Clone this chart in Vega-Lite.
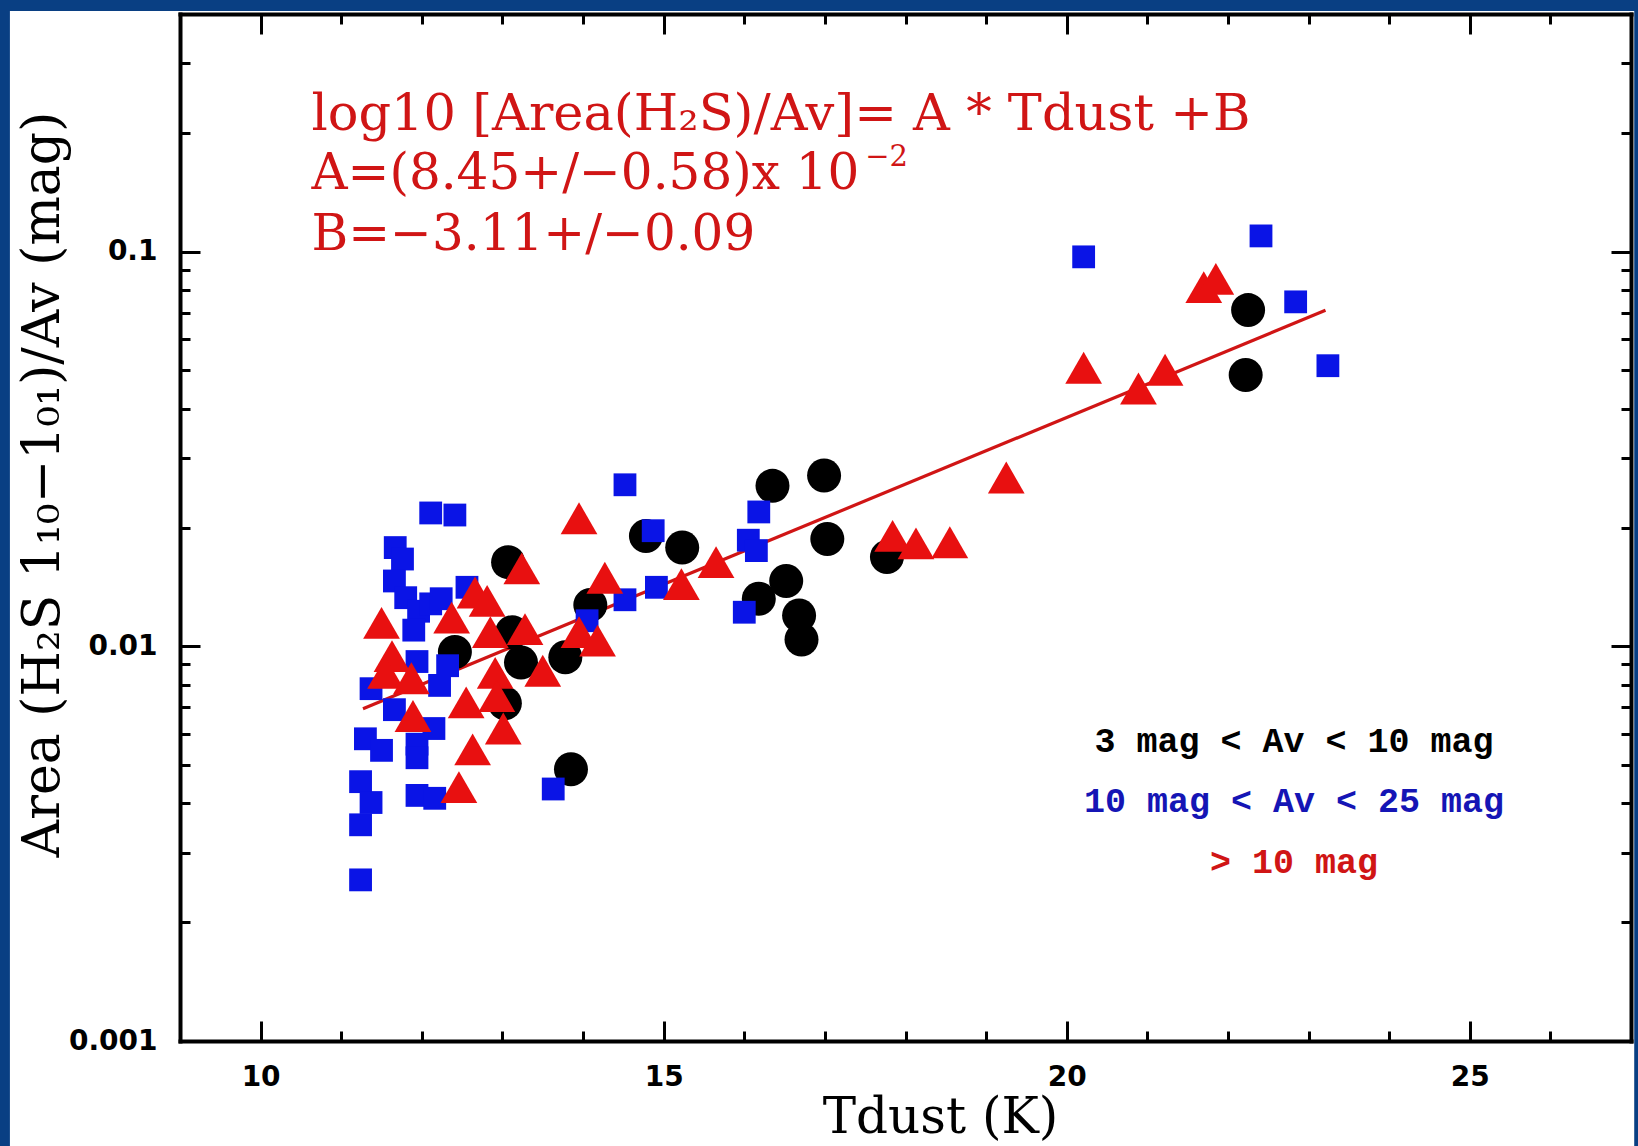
{
  "$schema": "https://vega.github.io/schema/vega-lite/v6.json",
  "width": 1451,
  "height": 1027,
  "autosize": {"type": "none"},
  "padding": {"left": 180, "top": 14, "right": 7, "bottom": 105},
  "background": "#093f83",
  "config": {
    "view": {"stroke": null},
    "axis": {
      "grid": false,
      "domainColor": "black",
      "domainWidth": 4,
      "domainCap": "square",
      "tickColor": "black",
      "tickWidth": 3,
      "labelColor": "black",
      "titleColor": "black",
      "labelFlush": false,
      "labelOverlap": false
    }
  },
  "datasets": {
    "points": [
      {"T": 22.25, "A": 0.0711, "group": "3 mag < Av < 10 mag"},
      {"T": 22.22, "A": 0.0487, "group": "3 mag < Av < 10 mag"},
      {"T": 16.99, "A": 0.0271, "group": "3 mag < Av < 10 mag"},
      {"T": 16.35, "A": 0.0255, "group": "3 mag < Av < 10 mag"},
      {"T": 17.03, "A": 0.0187, "group": "3 mag < Av < 10 mag"},
      {"T": 17.77, "A": 0.01684, "group": "3 mag < Av < 10 mag"},
      {"T": 14.78, "A": 0.01904, "group": "3 mag < Av < 10 mag"},
      {"T": 15.23, "A": 0.01779, "group": "3 mag < Av < 10 mag"},
      {"T": 16.52, "A": 0.01464, "group": "3 mag < Av < 10 mag"},
      {"T": 16.18, "A": 0.0132, "group": "3 mag < Av < 10 mag"},
      {"T": 16.68, "A": 0.01197, "group": "3 mag < Av < 10 mag"},
      {"T": 16.71, "A": 0.0104, "group": "3 mag < Av < 10 mag"},
      {"T": 13.07, "A": 0.01634, "group": "3 mag < Av < 10 mag"},
      {"T": 14.09, "A": 0.01273, "group": "3 mag < Av < 10 mag"},
      {"T": 13.23, "A": 0.0091, "group": "3 mag < Av < 10 mag"},
      {"T": 13.78, "A": 0.00938, "group": "3 mag < Av < 10 mag"},
      {"T": 13.12, "A": 0.01086, "group": "3 mag < Av < 10 mag"},
      {"T": 12.41, "A": 0.00967, "group": "3 mag < Av < 10 mag"},
      {"T": 13.03, "A": 0.00717, "group": "3 mag < Av < 10 mag"},
      {"T": 13.85, "A": 0.00488, "group": "3 mag < Av < 10 mag"},
      {"T": 20.21, "A": 0.097, "group": "10 mag < Av < 25 mag"},
      {"T": 22.41, "A": 0.1096, "group": "10 mag < Av < 25 mag"},
      {"T": 22.84, "A": 0.0746, "group": "10 mag < Av < 25 mag"},
      {"T": 23.24, "A": 0.0514, "group": "10 mag < Av < 25 mag"},
      {"T": 14.52, "A": 0.02566, "group": "10 mag < Av < 25 mag"},
      {"T": 14.87, "A": 0.01963, "group": "10 mag < Av < 25 mag"},
      {"T": 16.18, "A": 0.0219, "group": "10 mag < Av < 25 mag"},
      {"T": 16.05, "A": 0.01857, "group": "10 mag < Av < 25 mag"},
      {"T": 16.15, "A": 0.01748, "group": "10 mag < Av < 25 mag"},
      {"T": 14.91, "A": 0.01411, "group": "10 mag < Av < 25 mag"},
      {"T": 14.52, "A": 0.01312, "group": "10 mag < Av < 25 mag"},
      {"T": 16.0, "A": 0.0122, "group": "10 mag < Av < 25 mag"},
      {"T": 14.05, "A": 0.01161, "group": "10 mag < Av < 25 mag"},
      {"T": 13.63, "A": 0.00435, "group": "10 mag < Av < 25 mag"},
      {"T": 12.11, "A": 0.02177, "group": "10 mag < Av < 25 mag"},
      {"T": 12.41, "A": 0.02151, "group": "10 mag < Av < 25 mag"},
      {"T": 11.67, "A": 0.01779, "group": "10 mag < Av < 25 mag"},
      {"T": 11.76, "A": 0.01664, "group": "10 mag < Av < 25 mag"},
      {"T": 11.66, "A": 0.01464, "group": "10 mag < Av < 25 mag"},
      {"T": 11.8, "A": 0.01328, "group": "10 mag < Av < 25 mag"},
      {"T": 11.96, "A": 0.01227, "group": "10 mag < Av < 25 mag"},
      {"T": 12.11, "A": 0.01281, "group": "10 mag < Av < 25 mag"},
      {"T": 12.24, "A": 0.0132, "group": "10 mag < Av < 25 mag"},
      {"T": 12.56, "A": 0.01411, "group": "10 mag < Av < 25 mag"},
      {"T": 11.9, "A": 0.01099, "group": "10 mag < Av < 25 mag"},
      {"T": 11.94, "A": 0.00915, "group": "10 mag < Av < 25 mag"},
      {"T": 12.32, "A": 0.00893, "group": "10 mag < Av < 25 mag"},
      {"T": 11.37, "A": 0.00781, "group": "10 mag < Av < 25 mag"},
      {"T": 11.66, "A": 0.00691, "group": "10 mag < Av < 25 mag"},
      {"T": 12.22, "A": 0.00796, "group": "10 mag < Av < 25 mag"},
      {"T": 12.15, "A": 0.00619, "group": "10 mag < Av < 25 mag"},
      {"T": 11.94, "A": 0.00565, "group": "10 mag < Av < 25 mag"},
      {"T": 11.94, "A": 0.00522, "group": "10 mag < Av < 25 mag"},
      {"T": 11.3, "A": 0.00583, "group": "10 mag < Av < 25 mag"},
      {"T": 11.5, "A": 0.00545, "group": "10 mag < Av < 25 mag"},
      {"T": 11.24, "A": 0.00454, "group": "10 mag < Av < 25 mag"},
      {"T": 11.37, "A": 0.00402, "group": "10 mag < Av < 25 mag"},
      {"T": 11.24, "A": 0.00353, "group": "10 mag < Av < 25 mag"},
      {"T": 11.94, "A": 0.00419, "group": "10 mag < Av < 25 mag"},
      {"T": 12.16, "A": 0.00412, "group": "10 mag < Av < 25 mag"},
      {"T": 11.24, "A": 0.00256, "group": "10 mag < Av < 25 mag"},
      {"T": 11.5, "A": 0.01147, "group": "> 10 mag"},
      {"T": 11.63, "A": 0.00944, "group": "> 10 mag"},
      {"T": 11.55, "A": 0.00856, "group": "> 10 mag"},
      {"T": 11.87, "A": 0.0083, "group": "> 10 mag"},
      {"T": 11.89, "A": 0.00666, "group": "> 10 mag"},
      {"T": 12.37, "A": 0.01182, "group": "> 10 mag"},
      {"T": 12.66, "A": 0.01369, "group": "> 10 mag"},
      {"T": 12.81, "A": 0.01304, "group": "> 10 mag"},
      {"T": 12.85, "A": 0.01086, "group": "> 10 mag"},
      {"T": 12.55, "A": 0.00721, "group": "> 10 mag"},
      {"T": 12.91, "A": 0.00856, "group": "> 10 mag"},
      {"T": 12.93, "A": 0.00748, "group": "> 10 mag"},
      {"T": 13.01, "A": 0.00619, "group": "> 10 mag"},
      {"T": 12.63, "A": 0.00548, "group": "> 10 mag"},
      {"T": 12.46, "A": 0.0044, "group": "> 10 mag"},
      {"T": 13.24, "A": 0.01575, "group": "> 10 mag"},
      {"T": 13.28, "A": 0.01106, "group": "> 10 mag"},
      {"T": 13.5, "A": 0.00867, "group": "> 10 mag"},
      {"T": 13.95, "A": 0.02111, "group": "> 10 mag"},
      {"T": 13.95, "A": 0.01086, "group": "> 10 mag"},
      {"T": 14.18, "A": 0.01034, "group": "> 10 mag"},
      {"T": 14.27, "A": 0.01492, "group": "> 10 mag"},
      {"T": 15.22, "A": 0.01438, "group": "> 10 mag"},
      {"T": 15.65, "A": 0.01634, "group": "> 10 mag"},
      {"T": 17.84, "A": 0.01904, "group": "> 10 mag"},
      {"T": 18.13, "A": 0.01823, "group": "> 10 mag"},
      {"T": 18.55, "A": 0.01835, "group": "> 10 mag"},
      {"T": 19.25, "A": 0.02677, "group": "> 10 mag"},
      {"T": 20.21, "A": 0.0508, "group": "> 10 mag"},
      {"T": 20.89, "A": 0.045, "group": "> 10 mag"},
      {"T": 21.22, "A": 0.0502, "group": "> 10 mag"},
      {"T": 21.7, "A": 0.0813, "group": "> 10 mag"},
      {"T": 21.85, "A": 0.0853, "group": "> 10 mag"}
    ],
    "fit": [
      {"T": 11.27, "A": 0.00695},
      {"T": 23.21, "A": 0.071}
    ]
  },
  "layer": [
    {
      "data": {"values": [{}]},
      "mark": {"type": "rect", "color": "white", "clip": false},
      "encoding": {
        "x": {"datum": 6.89, "type": "quantitative", "scale": {"domain": [9, 27], "nice": false, "zero": false}, "axis": null},
        "x2": {"datum": 27.04},
        "y": {"datum": 0.0004, "type": "quantitative", "scale": {"type": "log", "domain": [0.001, 0.4], "nice": false}, "axis": null},
        "y2": {"datum": 0.4071}
      }
    },
    {
      "data": {"name": "fit"},
      "mark": {"type": "line", "color": "#d01515", "strokeWidth": 3.2},
      "encoding": {
        "x": {"field": "T", "type": "quantitative", "scale": {"domain": [9, 27], "nice": false, "zero": false},
          "axis": {"zindex": 2, "orient": "bottom", "values": [11, 12, 13, 14, 16, 17, 18, 19, 21, 22, 23, 24, 26], "tickSize": -10, "labels": false, "domain": false, "title": null}},
        "y": {"field": "A", "type": "quantitative", "scale": {"type": "log", "domain": [0.001, 0.4], "nice": false},
          "axis": {"zindex": 2, "orient": "left", "values": [0.002, 0.003, 0.004, 0.005, 0.006, 0.007, 0.008, 0.009, 0.02, 0.03, 0.04, 0.05, 0.06, 0.07, 0.08, 0.09, 0.2, 0.3], "tickSize": -10, "labels": false, "domain": false, "title": null}}
      }
    },
    {
      "data": {"name": "points"},
      "transform": [{"filter": "datum.group == '3 mag < Av < 10 mag'"}],
      "mark": {"type": "circle", "color": "black", "opacity": 1, "size": 1156},
      "encoding": {
        "x": {"field": "T", "type": "quantitative", "scale": {"domain": [9, 27], "nice": false, "zero": false},
          "axis": {"zindex": 2, "orient": "top", "values": [10, 15, 20, 25], "tickSize": -20, "labels": false, "domain": true, "title": null}},
        "y": {"field": "A", "type": "quantitative", "scale": {"type": "log", "domain": [0.001, 0.4], "nice": false},
          "axis": {"zindex": 2, "orient": "right", "values": [0.001, 0.01, 0.1], "tickSize": -20, "labels": false, "domain": true, "title": null}}
      }
    },
    {
      "data": {"name": "points"},
      "transform": [{"filter": "datum.group == '10 mag < Av < 25 mag'"}],
      "mark": {"type": "square", "color": "#0a14e6", "opacity": 1, "size": 520},
      "encoding": {
        "x": {"field": "T", "type": "quantitative", "scale": {"domain": [9, 27], "nice": false, "zero": false},
          "axis": {"zindex": 2, "orient": "top", "values": [11, 12, 13, 14, 16, 17, 18, 19, 21, 22, 23, 24, 26], "tickSize": -10, "labels": false, "domain": false, "title": null}},
        "y": {"field": "A", "type": "quantitative", "scale": {"type": "log", "domain": [0.001, 0.4], "nice": false},
          "axis": {"zindex": 2, "orient": "right", "values": [0.002, 0.003, 0.004, 0.005, 0.006, 0.007, 0.008, 0.009, 0.02, 0.03, 0.04, 0.05, 0.06, 0.07, 0.08, 0.09, 0.2, 0.3], "tickSize": -10, "labels": false, "domain": false, "title": null}}
      }
    },
    {
      "data": {"name": "points"},
      "transform": [{"filter": "datum.group == '> 10 mag'"}],
      "mark": {"type": "point", "shape": "triangle-up", "filled": true, "color": "#e81010", "opacity": 1, "size": 1350},
      "encoding": {
        "x": {"field": "T", "type": "quantitative", "scale": {"domain": [9, 27], "nice": false, "zero": false},
          "axis": {"zindex": 2, "orient": "bottom", "values": [10, 15, 20, 25], "format": "d", "tickSize": -20, "labels": true, "labelPadding": 42, "labelBaseline": "top",
            "labelFont": "DejaVu Sans", "labelFontWeight": "bold", "labelFontSize": 28, "domain": true,
            "title": "Tdust (K)", "titleFont": "DejaVu Serif", "titleFontWeight": "normal", "titleFontSize": 50,
            "titleX": 760, "titleY": 91, "titleBaseline": "alphabetic", "titleAlign": "center"}},
        "y": {"field": "A", "type": "quantitative", "scale": {"type": "log", "domain": [0.001, 0.4], "nice": false},
          "axis": {"zindex": 2, "orient": "left", "values": [0.001, 0.01, 0.1], "format": "~g", "tickSize": -20, "labels": true, "labelPadding": 43, "labelBaseline": "middle",
            "labelFont": "DejaVu Sans", "labelFontWeight": "bold", "labelFontSize": 28, "domain": true,
            "title": "Area (H₂S 1₁₀−1₀₁)/Av (mag)", "titleFont": "DejaVu Serif", "titleFontWeight": "normal", "titleFontSize": 52,
            "titleAngle": -90, "titleX": -122, "titleY": 470, "titleBaseline": "alphabetic", "titleAlign": "center"}}
      }
    },
    {
      "data": {"values": [{}]},
      "mark": {"type": "text", "text": "log10 [Area(H₂S)/Av]= A * Tdust +B", "font": "DejaVu Serif", "fontSize": 51, "color": "#d01515", "align": "left", "baseline": "alphabetic"},
      "encoding": {
        "x": {"datum": 10.63, "type": "quantitative", "axis": null},
        "y": {"datum": 0.2033, "type": "quantitative", "axis": null}
      }
    },
    {
      "data": {"values": [{}]},
      "mark": {"type": "text", "text": "A=(8.45+/−0.58)x 10", "font": "DejaVu Serif", "fontSize": 50, "color": "#d01515", "align": "left", "baseline": "alphabetic"},
      "encoding": {
        "x": {"datum": 10.63, "type": "quantitative", "axis": null},
        "y": {"datum": 0.1439, "type": "quantitative", "axis": null}
      }
    },
    {
      "data": {"values": [{}]},
      "mark": {"type": "text", "text": "−2", "font": "DejaVu Serif", "fontSize": 29, "color": "#d01515", "align": "left", "baseline": "alphabetic"},
      "encoding": {
        "x": {"datum": 17.5, "type": "quantitative", "axis": null},
        "y": {"datum": 0.1647, "type": "quantitative", "axis": null}
      }
    },
    {
      "data": {"values": [{}]},
      "mark": {"type": "text", "text": "B=−3.11+/−0.09", "font": "DejaVu Serif", "fontSize": 50, "color": "#d01515", "align": "left", "baseline": "alphabetic"},
      "encoding": {
        "x": {"datum": 10.63, "type": "quantitative", "axis": null},
        "y": {"datum": 0.1012, "type": "quantitative", "axis": null}
      }
    },
    {
      "data": {"values": [{}]},
      "mark": {"type": "text", "text": "3 mag < Av < 10 mag", "font": "Liberation Mono", "fontWeight": "bold", "fontSize": 35, "color": "black", "align": "center", "baseline": "alphabetic"},
      "encoding": {
        "x": {"datum": 22.82, "type": "quantitative", "axis": null},
        "y": {"datum": 0.00539, "type": "quantitative", "axis": null}
      }
    },
    {
      "data": {"values": [{}]},
      "mark": {"type": "text", "text": "10 mag < Av < 25 mag", "font": "Liberation Mono", "fontWeight": "bold", "fontSize": 35, "color": "#1515b5", "align": "center", "baseline": "alphabetic"},
      "encoding": {
        "x": {"datum": 22.82, "type": "quantitative", "axis": null},
        "y": {"datum": 0.003798, "type": "quantitative", "axis": null}
      }
    },
    {
      "data": {"values": [{}]},
      "mark": {"type": "text", "text": "> 10 mag", "font": "Liberation Mono", "fontWeight": "bold", "fontSize": 35, "color": "#d01515", "align": "center", "baseline": "alphabetic"},
      "encoding": {
        "x": {"datum": 22.82, "type": "quantitative", "axis": null},
        "y": {"datum": 0.002666, "type": "quantitative", "axis": null}
      }
    }
  ],
  "resolve": {"axis": {"x": "independent", "y": "independent"}}
}
